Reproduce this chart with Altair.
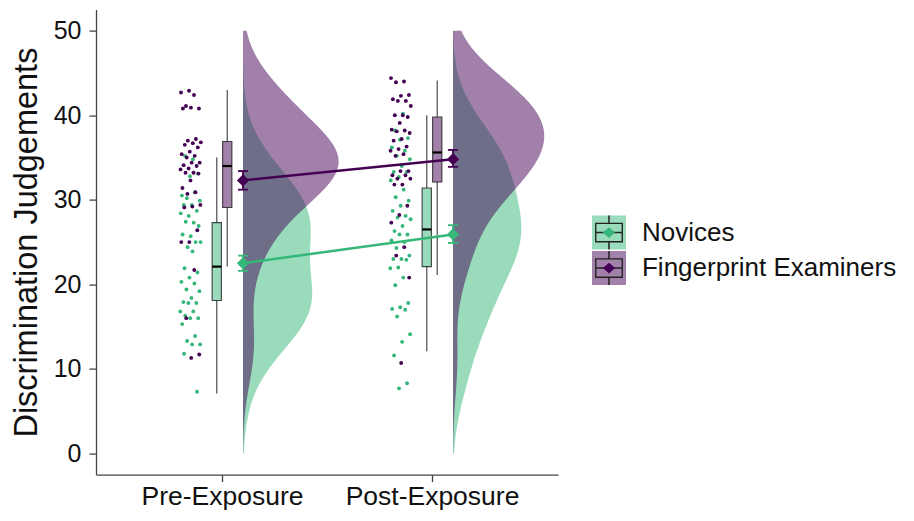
import altair as alt
import pandas as pd

# ---------------- data ----------------
conditions = ["Pre-Exposure", "Post-Exposure"]
groups = ["Novices", "Fingerprint Examiners"]
colors = ["#35B779", "#440154"]

pre_novices = [34.8, 35.2, 33.1, 32.8, 30.5, 30.9, 30.2, 29.9, 29.4, 29.4, 28.7, 28.1,
               28.4, 27.3, 27.4, 26.9, 25.7, 25.9, 25.0, 24.4, 25.0, 23.9, 21.9, 21.4,
               20.8, 20.3, 20.1, 19.4, 19.2, 18.4, 17.9, 17.8, 17.8, 16.8, 16.8, 16.3,
               16.0, 16.0, 15.3, 13.9, 13.3, 12.9, 12.9, 11.8, 7.3]
pre_examiners = [42.9, 42.7, 42.4, 41.1, 40.8, 40.9, 40.8, 37.2, 37.0, 36.8, 36.7, 36.5,
                 36.2, 35.7, 35.4, 35.2, 35.0, 34.4, 34.4, 34.1, 34.0, 33.7, 33.6, 33.2,
                 33.2, 33.1, 32.3, 31.4, 30.9, 30.7, 29.4, 29.2, 29.1, 26.4, 25.0, 25.0,
                 21.7, 16.0, 11.7, 11.3]
post_novices = [40.2, 38.2, 37.3, 37.1, 36.2, 35.8, 35.2, 34.8, 34.0, 33.3, 33.3, 32.7,
                32.3, 31.2, 30.3, 29.9, 29.3, 28.7, 28.1, 27.9, 27.7, 26.9, 26.3, 25.9,
                25.9, 25.2, 25.0, 24.3, 23.4, 23.0, 23.0, 22.9, 22.0, 21.9, 20.8, 19.9,
                17.8, 17.3, 17.1, 17.0, 16.2, 14.1, 13.2, 11.6, 8.3, 7.7]
post_examiners = [44.4, 44.0, 43.9, 42.4, 42.3, 41.9, 41.7, 41.7, 41.1, 40.0, 40.0, 39.8,
                  39.1, 38.3, 38.2, 38.1, 37.9, 37.2, 37.0, 36.3, 36.0, 35.8, 35.4, 35.2,
                  33.4, 33.4, 32.9, 32.9, 32.5, 32.5, 31.8, 31.8, 29.3, 28.2, 27.3, 24.4,
                  23.4, 20.8, 10.7]

# boxplot statistics (per condition x group)
box_cond = [1, 1, 2, 2]
box_group = [groups[0], groups[1], groups[0], groups[1]]
box_lo = [7.1, 22.1, 12.1, 21.1]
box_q1 = [18.1, 29.1, 22.1, 32.1]
box_med = [22.1, 34.0, 26.5, 35.6]
box_q3 = [27.3, 36.9, 31.4, 39.8]
box_hi = [35.0, 43.0, 40.0, 44.1]

# means with error bars
mean_val = [22.5, 32.3, 25.9, 34.8]
mean_lo = [21.6, 31.2, 24.9, 33.9]
mean_hi = [23.4, 33.4, 27.0, 35.9]

# ---------------- tables ----------------
rows = []
for cond, grp, vals in [(1, groups[0], pre_novices), (1, groups[1], pre_examiners),
                        (2, groups[0], post_novices), (2, groups[1], post_examiners)]:
    for v in vals:
        rows.append({"cond": cond, "group": grp, "value": v})
points_df = pd.DataFrame(rows)

box_df = pd.DataFrame({"cond": box_cond, "group": box_group, "lo": box_lo, "q1": box_q1,
                       "med": box_med, "q3": box_q3, "hi": box_hi})
mean_df = pd.DataFrame({"cond": box_cond, "group": box_group, "mean": mean_val,
                        "lo": mean_lo, "hi": mean_hi})

# ---------------- layout constants ----------------
DOT_OFF = -0.15
JIT = 0.1
BOX_DODGE = 0.025
BOX_HALF = 0.022
MEAN_OFF = 0.1
CAP = 0.024
DENS_K = 7.7
BW = 4.0
FONT = "Liberation Sans"

xs = alt.Scale(domain=[0.4, 2.6], nice=False, zero=False)
ys = alt.Scale(domain=[-2.5, 52.5], nice=False, zero=False)
label_expr = "[" + ",".join("'%s'" % c for c in conditions) + "][datum.value - 1]"
x_axis = alt.Axis(values=[1, 2], labelExpr=label_expr, title=None, grid=False,
                  tickSize=7, labelFontSize=26.5, labelPadding=2, labelFont=FONT,
                  labelColor="#111111", domainColor="#444444", tickColor="#444444",
                  domainWidth=1.3, tickWidth=1.3)
y_axis = alt.Axis(values=[0, 10, 20, 30, 40, 50], title="Discrimination Judgements",
                  grid=False, tickSize=7, labelFontSize=25, labelPadding=8,
                  labelFont=FONT, labelColor="#111111", titleFont=FONT,
                  titleFontSize=32.5, titleFontWeight="normal", titleColor="#111111",
                  titlePadding=10, domainColor="#444444", tickColor="#444444",
                  domainWidth=1.3, tickWidth=1.3)


def X(f):
    return alt.X(f, type="quantitative", scale=xs, axis=x_axis, title=None)


def Y(f):
    return alt.Y(f, type="quantitative", scale=ys, axis=y_axis,
                 title="Discrimination Judgements")


LX, LY = 496, 206
common_leg = dict(title=None, orient="none", legendX=LX, legendY=LY, padding=0,
                  rowPadding=1.5, symbolSize=1156, labelFontSize=26, labelFont=FONT,
                  labelColor="#111111", labelOffset=16, labelLimit=400)

# legend glyphs drawn as filled outlines (no stroke, so all entries share one row height)
BOX_PATH = ("M-1,-1M1,1"
            "M-0.82,-0.58H0.82V0.58H-0.82Z"
            "M-0.74,-0.5V0.5H0.74V-0.5Z"
            "M-0.74,-0.045H0.74V0.045H-0.74Z"
            "M-0.045,-1H0.045V-0.58H-0.045Z"
            "M-0.045,0.58H0.045V1H-0.045Z")
DIAMOND_PATH = "M-1,-1M1,1M-0.36,0L0,-0.32L0.36,0L0,0.32Z"

L1 = alt.Legend(symbolType="square", symbolOpacity=0.5, symbolStrokeWidth=0,
                zindex=1, **common_leg)
L2 = alt.Legend(symbolType=BOX_PATH, symbolStrokeWidth=0, labelExpr="''", zindex=2,
                symbolFillColor="#222222", symbolOpacity=1, **common_leg)
L3 = alt.Legend(symbolType=DIAMOND_PATH, symbolStrokeWidth=0, labelExpr="''", zindex=3,
                symbolOpacity=1, **common_leg)

# separate (suffixed) domains keep the three overlaid legends from being merged
g2_dom = [g + " " for g in groups]
g3_dom = [g + "  " for g in groups]
fill_scale = alt.Scale(domain=groups, range=colors)
stroke_scale = alt.Scale(domain=g2_dom, range=["#222222", "#222222"])
color_scale = alt.Scale(domain=g3_dom, range=colors)

FILL = alt.Fill("group:N", scale=fill_scale, legend=L1)
STROKE = alt.Stroke("g2:N", scale=stroke_scale, legend=L2)
COLOR = alt.Color("g3:N", scale=color_scale, legend=L3)

pts = alt.Chart(points_df)


def density_layer(g):
    return (pts.transform_filter(alt.datum.group == g)
            .transform_density("value", groupby=["cond", "group"], extent=[0, 50],
                               bandwidth=BW, steps=200, as_=["value", "density"])
            .transform_calculate(xd="datum.cond + %f + datum.density * %f" % (MEAN_OFF, DENS_K),
                                 xb="datum.cond + %f" % MEAN_OFF)
            .mark_area(orient="horizontal", opacity=0.5)
            .encode(x=X("xd"), x2="xb:Q", y=Y("value"), fill=FILL, detail="cond:N"))


dens_nov = density_layer(groups[0])
dens_exp = density_layer(groups[1])

dots = (pts.transform_window(idx="row_number()", groupby=["cond"])
        .transform_calculate(xj="datum.cond + %f + (((datum.idx * 0.618034) %% 1) - 0.5) * %f"
                             % (DOT_OFF, JIT))
        .mark_circle(size=15, opacity=1)
        .encode(x=X("xj"), y=Y("value"), fill=FILL))

box_base = alt.Chart(box_df).transform_calculate(
    xc="datum.cond + (datum.group === '%s' ? %f : %f)" % (groups[0], -BOX_DODGE, BOX_DODGE),
    g2="datum.group + ' '").transform_calculate(
    xl="datum.xc - %f" % BOX_HALF, xr="datum.xc + %f" % BOX_HALF)

whisk_lo = box_base.mark_rule(strokeWidth=1.3, opacity=0.75).encode(
    x=X("xc"), y=Y("lo"), y2="q1:Q", stroke=STROKE)
whisk_hi = box_base.mark_rule(strokeWidth=1.3, opacity=0.75).encode(
    x=X("xc"), y=Y("q3"), y2="hi:Q", stroke=STROKE)
boxes = box_base.mark_bar(fillOpacity=0.5, strokeWidth=1.1, strokeOpacity=0.85).encode(
    x=X("xl"), x2="xr:Q", y=Y("q1"), y2="q3:Q", fill=FILL, stroke=STROKE)
medians = box_base.mark_rule(color="black", strokeWidth=2.2).encode(
    x=X("xl"), x2="xr:Q", y=Y("med"))

mean_base = alt.Chart(mean_df).transform_calculate(
    xm="datum.cond + %f" % MEAN_OFF, g3="datum.group + '  '").transform_calculate(
    xl="datum.xm - %f" % CAP, xr="datum.xm + %f" % CAP)

diamonds = mean_base.mark_point(shape="diamond", filled=True, size=150, opacity=1).encode(
    x=X("xm"), y=Y("mean"), color=COLOR)
lines = mean_base.mark_line(strokeWidth=2.5).encode(x=X("xm"), y=Y("mean"), color=COLOR)
errs = mean_base.mark_rule(strokeWidth=1.8).encode(x=X("xm"), y=Y("lo"), y2="hi:Q", color=COLOR)
caps_lo = mean_base.mark_rule(strokeWidth=1.8).encode(x=X("xl"), x2="xr:Q", y=Y("lo"), color=COLOR)
caps_hi = mean_base.mark_rule(strokeWidth=1.8).encode(x=X("xl"), x2="xr:Q", y=Y("hi"), color=COLOR)

chart = alt.layer(dens_nov, dens_exp, dots, whisk_lo, whisk_hi, boxes, medians,
                  lines, errs, caps_lo, caps_hi, diamonds).properties(
    width=462, height=465,
    autosize=alt.AutoSizeParams(type="none"),
    padding={"left": 88, "top": 1.6, "right": 348, "bottom": 38},
).configure(font=FONT).configure_view(stroke=None)

chart.save("out.html", embed_options={"renderer": "svg", "actions": False})
